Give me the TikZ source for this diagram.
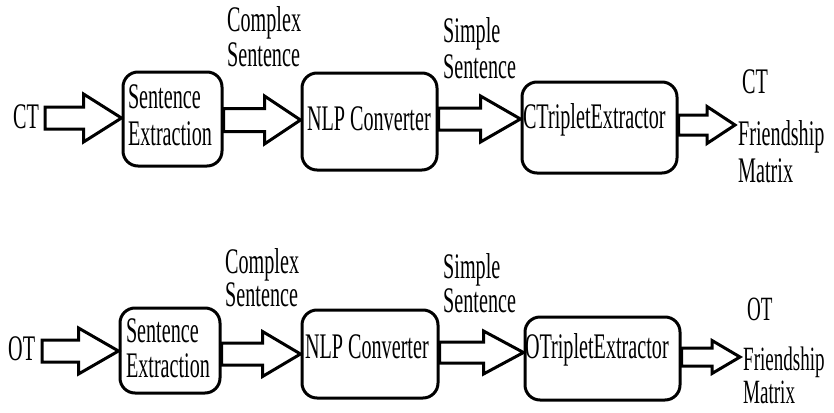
\documentclass[tikz,border=0pt]{standalone}
\usepackage{fontspec}
\setmainfont[FakeStretch=0.56]{Liberation Serif}
\usetikzlibrary{calc}
% stacked lines: first baseline is the box baseline
\newcommand\mltwo[3]{\vtop{\baselineskip=#1\lineskiplimit=-1000pt\hbox{#2}\hbox{#3}}}
\newcommand\mlout[5]{\vtop{\baselineskip=#2\lineskiplimit=-1000pt\hbox{\hspace{4pt}#3}\vskip#1\hbox{#4}\hbox{#5}}}
% block arrow: source anchor, target anchor, centre y, shaft half, head half, head length
\newcommand\barrow[6]{%
  \path (#1 |- 0,#3) coordinate (t0) (#2 |- 0,#3) coordinate (t1);
  \draw[blk] ($(t0)+(0,-#4)$) -- ($(t1)+(-#6,-#4)$) -- ($(t1)+(-#6,-#5)$) -- (t1)
    -- ($(t1)+(-#6,#5)$) -- ($(t1)+(-#6,#4)$) -- ($(t0)+(0,#4)$) -- cycle;}
\begin{document}
\begin{tikzpicture}[x=1pt,y=-1pt,
  box/.style={draw, line width=3pt, rounded corners=15pt, inner sep=0pt},
  blk/.style={draw, line width=3pt, fill=white, line join=miter},
  txt/.style={inner sep=0pt, anchor=base west},
  every node/.style={font=\fontsize{36}{37}\selectfont}]
\useasboundingbox (0,0) rectangle (834,412);

% ---------- top row ----------
\node[box, minimum width=99pt, minimum height=94pt, text height=6pt, text depth=28pt]
  (se1) at (172.5,119) {\makebox[89pt][l]{\mltwo{37pt}{Sentence}{Extraction}}};
\node[box, minimum width=135pt, minimum height=97pt, text height=17pt, text depth=0pt]
  (nlp1) at (369.5,121.5) {\makebox[125pt][l]{NLP Converter}};
\node[box, minimum width=155pt, minimum height=91pt, text height=10pt, text depth=9pt]
  (cte1) at (599.5,127.5) {\makebox[153pt][l]{CTripletExtractor}};

\node[txt] (ct) at (13,128) {CT};
\node[txt] (cx1) at (227,32) {\mltwo{35pt}{Complex}{Sentence}};
\node[txt] (sp1) at (443,42) {\mltwo{36pt}{Simple}{Sentence}};
\node[txt] (out1) at (738,93) {\mlout{15pt}{37pt}{CT}{Friendship}{Matrix}};
\coordinate (ctin) at (45,118);
\coordinate (ctout) at (735,125);

\barrow{ctin}{se1.west}{118}{11}{24}{38}
\barrow{se1.east}{nlp1.west}{120}{11.5}{24}{36}
\barrow{nlp1.east}{cte1.west}{119}{11}{23}{40}
\barrow{cte1.east}{ctout}{125}{10}{18.5}{28}

% ---------- bottom row ----------
\node[box, minimum width=100pt, minimum height=85pt, text height=8pt, text depth=25pt]
  (se2) at (170,350.5) {\makebox[88pt][l]{\mltwo{35pt}{Sentence}{Extraction}}};
\node[box, minimum width=136pt, minimum height=88pt, text height=12pt, text depth=4pt]
  (nlp2) at (370,354) {\makebox[130pt][l]{NLP Converter}};
\node[box, minimum width=155pt, minimum height=83pt, text height=9pt, text depth=10pt]
  (ote2) at (602.5,358.5) {\makebox[155pt][l]{OTripletExtractor}};

\node[txt] (ot) at (8,360) {OT};
\node[txt] (cx2) at (225,273) {\mltwo{33pt}{Complex}{Sentence}};
\node[txt] (sp2) at (443,278) {\mltwo{34pt}{Simple}{Sentence}};
\node[txt, font=\fontsize{34}{35}\selectfont] (out2) at (743,320) {\mlout{17pt}{33pt}{OT}{Friendship}{Matrix}};
\coordinate (otin) at (42,351);
\coordinate (otout) at (740,357);

\barrow{otin}{se2.west}{351}{11}{23}{40}
\barrow{se2.east}{nlp2.west}{354}{11}{22.5}{38}
\barrow{nlp2.east}{ote2.west}{352.5}{10.5}{21.5}{40}
\barrow{ote2.east}{otout}{357}{9}{16.5}{28}
\end{tikzpicture}
\end{document}
